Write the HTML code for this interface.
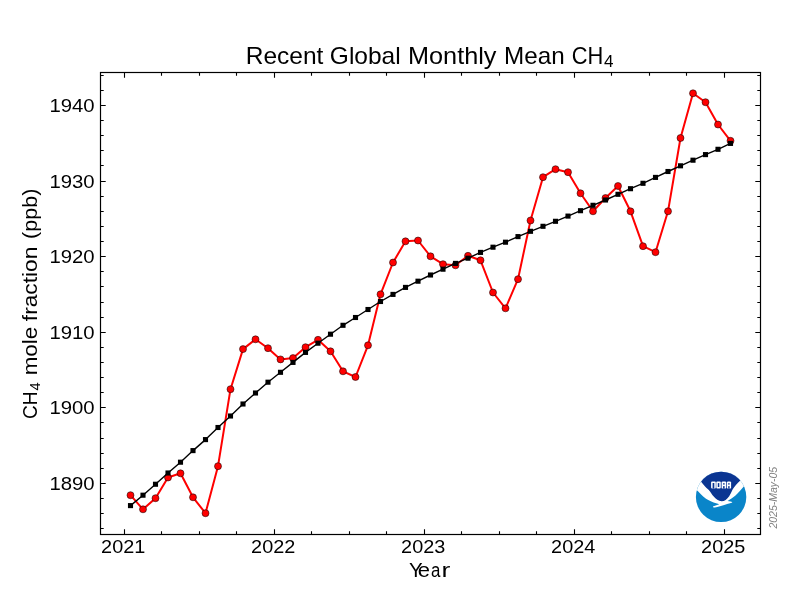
<!DOCTYPE html><html><head><meta charset="utf-8"><style>html,body{margin:0;padding:0;background:#fff;overflow:hidden}svg{display:block;will-change:transform}</style></head><body><svg width="800" height="600" viewBox="0 0 800 600"><rect width="800" height="600" fill="#fff"/><path d="M124.5 534.5v-5.2M124.5 72.5v5.2M161.5 534.5v-3.2M161.5 72.5v3.2M199.5 534.5v-3.2M199.5 72.5v3.2M236.5 534.5v-3.2M236.5 72.5v3.2M274.5 534.5v-5.2M274.5 72.5v5.2M311.5 534.5v-3.2M311.5 72.5v3.2M349.5 534.5v-3.2M349.5 72.5v3.2M386.5 534.5v-3.2M386.5 72.5v3.2M424.5 534.5v-5.2M424.5 72.5v5.2M461.5 534.5v-3.2M461.5 72.5v3.2M499.5 534.5v-3.2M499.5 72.5v3.2M536.5 534.5v-3.2M536.5 72.5v3.2M574.5 534.5v-5.2M574.5 72.5v5.2M611.5 534.5v-3.2M611.5 72.5v3.2M649.5 534.5v-3.2M649.5 72.5v3.2M686.5 534.5v-3.2M686.5 72.5v3.2M724.5 534.5v-5.2M724.5 72.5v5.2M100.5 528.5h3.2M760.5 528.5h-3.2M100.5 513.5h3.2M760.5 513.5h-3.2M100.5 498.5h3.2M760.5 498.5h-3.2M100.5 483.5h5.2M760.5 483.5h-5.2M100.5 468.5h3.2M760.5 468.5h-3.2M100.5 453.5h3.2M760.5 453.5h-3.2M100.5 438.5h3.2M760.5 438.5h-3.2M100.5 422.5h3.2M760.5 422.5h-3.2M100.5 407.5h5.2M760.5 407.5h-5.2M100.5 392.5h3.2M760.5 392.5h-3.2M100.5 377.5h3.2M760.5 377.5h-3.2M100.5 362.5h3.2M760.5 362.5h-3.2M100.5 347.5h3.2M760.5 347.5h-3.2M100.5 332.5h5.2M760.5 332.5h-5.2M100.5 317.5h3.2M760.5 317.5h-3.2M100.5 302.5h3.2M760.5 302.5h-3.2M100.5 286.5h3.2M760.5 286.5h-3.2M100.5 271.5h3.2M760.5 271.5h-3.2M100.5 256.5h5.2M760.5 256.5h-5.2M100.5 241.5h3.2M760.5 241.5h-3.2M100.5 226.5h3.2M760.5 226.5h-3.2M100.5 211.5h3.2M760.5 211.5h-3.2M100.5 196.5h3.2M760.5 196.5h-3.2M100.5 181.5h5.2M760.5 181.5h-5.2M100.5 165.5h3.2M760.5 165.5h-3.2M100.5 150.5h3.2M760.5 150.5h-3.2M100.5 135.5h3.2M760.5 135.5h-3.2M100.5 120.5h3.2M760.5 120.5h-3.2M100.5 105.5h5.2M760.5 105.5h-5.2M100.5 90.5h3.2M760.5 90.5h-3.2M100.5 75.5h3.2M760.5 75.5h-3.2" stroke="#000" stroke-width="1.1" fill="none"/><polyline points="130.5,495.2 143,509.3 155.5,498.2 168,477.5 180.5,473.3 193,497.3 205.5,513.2 218,466.2 230.5,389.2 243,349.1 255.5,339.3 268,348.2 280.5,359.4 293,358.1 305.5,347.2 318,339.8 330.5,351.3 343,371.3 355.5,377 368,345.3 380.5,294.3 393,262.5 405.5,241.3 418,240.5 430.5,256.3 443,264.2 455.5,265.3 468,255.8 480.5,260.3 493,292.5 505.5,308.3 518,279.2 530.5,220.5 543,177.2 555.5,169.2 568,172.2 580.5,193.3 593,211.3 605.5,198 618,186 630.5,211.3 643,246.2 655.5,252.2 668,211.3 680.5,138 693,93.3 705.5,102.2 718,124.5 730.5,140.8" fill="none" stroke="#f00" stroke-width="2" stroke-linejoin="round"/><g fill="#f00" stroke="#000" stroke-width="0.7" stroke-opacity="0.75"><circle cx="130.5" cy="495.2" r="3.5"/><circle cx="143" cy="509.3" r="3.5"/><circle cx="155.5" cy="498.2" r="3.5"/><circle cx="168" cy="477.5" r="3.5"/><circle cx="180.5" cy="473.3" r="3.5"/><circle cx="193" cy="497.3" r="3.5"/><circle cx="205.5" cy="513.2" r="3.5"/><circle cx="218" cy="466.2" r="3.5"/><circle cx="230.5" cy="389.2" r="3.5"/><circle cx="243" cy="349.1" r="3.5"/><circle cx="255.5" cy="339.3" r="3.5"/><circle cx="268" cy="348.2" r="3.5"/><circle cx="280.5" cy="359.4" r="3.5"/><circle cx="293" cy="358.1" r="3.5"/><circle cx="305.5" cy="347.2" r="3.5"/><circle cx="318" cy="339.8" r="3.5"/><circle cx="330.5" cy="351.3" r="3.5"/><circle cx="343" cy="371.3" r="3.5"/><circle cx="355.5" cy="377" r="3.5"/><circle cx="368" cy="345.3" r="3.5"/><circle cx="380.5" cy="294.3" r="3.5"/><circle cx="393" cy="262.5" r="3.5"/><circle cx="405.5" cy="241.3" r="3.5"/><circle cx="418" cy="240.5" r="3.5"/><circle cx="430.5" cy="256.3" r="3.5"/><circle cx="443" cy="264.2" r="3.5"/><circle cx="455.5" cy="265.3" r="3.5"/><circle cx="468" cy="255.8" r="3.5"/><circle cx="480.5" cy="260.3" r="3.5"/><circle cx="493" cy="292.5" r="3.5"/><circle cx="505.5" cy="308.3" r="3.5"/><circle cx="518" cy="279.2" r="3.5"/><circle cx="530.5" cy="220.5" r="3.5"/><circle cx="543" cy="177.2" r="3.5"/><circle cx="555.5" cy="169.2" r="3.5"/><circle cx="568" cy="172.2" r="3.5"/><circle cx="580.5" cy="193.3" r="3.5"/><circle cx="593" cy="211.3" r="3.5"/><circle cx="605.5" cy="198" r="3.5"/><circle cx="618" cy="186" r="3.5"/><circle cx="630.5" cy="211.3" r="3.5"/><circle cx="643" cy="246.2" r="3.5"/><circle cx="655.5" cy="252.2" r="3.5"/><circle cx="668" cy="211.3" r="3.5"/><circle cx="680.5" cy="138" r="3.5"/><circle cx="693" cy="93.3" r="3.5"/><circle cx="705.5" cy="102.2" r="3.5"/><circle cx="718" cy="124.5" r="3.5"/><circle cx="730.5" cy="140.8" r="3.5"/></g><polyline points="130.5,505.6 143,495.2 155.5,484.25 168,473 180.5,462.2 193,450.6 205.5,439.6 218,427.5 230.5,416 243,404 255.5,393 268,382.2 280.5,372.3 293,362.4 305.5,352.4 318,343.2 330.5,334.2 343,325.3 355.5,317.5 368,309.5 380.5,301.5 393,294.4 405.5,287.4 418,281.2 430.5,275 443,269.2 455.5,263.4 468,258.2 480.5,252.4 493,247.2 505.5,242.2 518,236.6 530.5,231.3 543,226.3 555.5,221.3 568,216.1 580.5,210.7 593,205.3 605.5,200 618,194.3 630.5,188.7 643,183.3 655.5,177.4 668,171.5 680.5,165.8 693,160.2 705.5,154.6 718,149.3 730.5,143.4" fill="none" stroke="#000" stroke-width="1.4" stroke-linejoin="round"/><g fill="#000"><rect x="127.95" y="503.05" width="5.1" height="5.1"/><rect x="140.45" y="492.65" width="5.1" height="5.1"/><rect x="152.95" y="481.7" width="5.1" height="5.1"/><rect x="165.45" y="470.45" width="5.1" height="5.1"/><rect x="177.95" y="459.65" width="5.1" height="5.1"/><rect x="190.45" y="448.05" width="5.1" height="5.1"/><rect x="202.95" y="437.05" width="5.1" height="5.1"/><rect x="215.45" y="424.95" width="5.1" height="5.1"/><rect x="227.95" y="413.45" width="5.1" height="5.1"/><rect x="240.45" y="401.45" width="5.1" height="5.1"/><rect x="252.95" y="390.45" width="5.1" height="5.1"/><rect x="265.45" y="379.65" width="5.1" height="5.1"/><rect x="277.95" y="369.75" width="5.1" height="5.1"/><rect x="290.45" y="359.85" width="5.1" height="5.1"/><rect x="302.95" y="349.85" width="5.1" height="5.1"/><rect x="315.45" y="340.65" width="5.1" height="5.1"/><rect x="327.95" y="331.65" width="5.1" height="5.1"/><rect x="340.45" y="322.75" width="5.1" height="5.1"/><rect x="352.95" y="314.95" width="5.1" height="5.1"/><rect x="365.45" y="306.95" width="5.1" height="5.1"/><rect x="377.95" y="298.95" width="5.1" height="5.1"/><rect x="390.45" y="291.85" width="5.1" height="5.1"/><rect x="402.95" y="284.85" width="5.1" height="5.1"/><rect x="415.45" y="278.65" width="5.1" height="5.1"/><rect x="427.95" y="272.45" width="5.1" height="5.1"/><rect x="440.45" y="266.65" width="5.1" height="5.1"/><rect x="452.95" y="260.85" width="5.1" height="5.1"/><rect x="465.45" y="255.65" width="5.1" height="5.1"/><rect x="477.95" y="249.85" width="5.1" height="5.1"/><rect x="490.45" y="244.65" width="5.1" height="5.1"/><rect x="502.95" y="239.65" width="5.1" height="5.1"/><rect x="515.45" y="234.05" width="5.1" height="5.1"/><rect x="527.95" y="228.75" width="5.1" height="5.1"/><rect x="540.45" y="223.75" width="5.1" height="5.1"/><rect x="552.95" y="218.75" width="5.1" height="5.1"/><rect x="565.45" y="213.55" width="5.1" height="5.1"/><rect x="577.95" y="208.15" width="5.1" height="5.1"/><rect x="590.45" y="202.75" width="5.1" height="5.1"/><rect x="602.95" y="197.45" width="5.1" height="5.1"/><rect x="615.45" y="191.75" width="5.1" height="5.1"/><rect x="627.95" y="186.15" width="5.1" height="5.1"/><rect x="640.45" y="180.75" width="5.1" height="5.1"/><rect x="652.95" y="174.85" width="5.1" height="5.1"/><rect x="665.45" y="168.95" width="5.1" height="5.1"/><rect x="677.95" y="163.25" width="5.1" height="5.1"/><rect x="690.45" y="157.65" width="5.1" height="5.1"/><rect x="702.95" y="152.05" width="5.1" height="5.1"/><rect x="715.45" y="146.75" width="5.1" height="5.1"/><rect x="727.95" y="140.85" width="5.1" height="5.1"/></g><rect x="100.5" y="72.5" width="660.0" height="462.0" fill="none" stroke="#000" stroke-width="1.2"/><text x="123.2" y="553.2" font-family="Liberation Sans, sans-serif" font-size="18.5" text-anchor="middle" textLength="44.2" lengthAdjust="spacingAndGlyphs">2021</text><text x="273.2" y="553.2" font-family="Liberation Sans, sans-serif" font-size="18.5" text-anchor="middle" textLength="44.2" lengthAdjust="spacingAndGlyphs">2022</text><text x="423.2" y="553.2" font-family="Liberation Sans, sans-serif" font-size="18.5" text-anchor="middle" textLength="44.2" lengthAdjust="spacingAndGlyphs">2023</text><text x="573.2" y="553.2" font-family="Liberation Sans, sans-serif" font-size="18.5" text-anchor="middle" textLength="44.2" lengthAdjust="spacingAndGlyphs">2024</text><text x="723.2" y="553.2" font-family="Liberation Sans, sans-serif" font-size="18.5" text-anchor="middle" textLength="44.2" lengthAdjust="spacingAndGlyphs">2025</text><text x="94.6" y="490.05" font-family="Liberation Sans, sans-serif" font-size="18.5" text-anchor="end" textLength="45.2" lengthAdjust="spacingAndGlyphs">1890</text><text x="94.6" y="414.45" font-family="Liberation Sans, sans-serif" font-size="18.5" text-anchor="end" textLength="45.2" lengthAdjust="spacingAndGlyphs">1900</text><text x="94.6" y="338.85" font-family="Liberation Sans, sans-serif" font-size="18.5" text-anchor="end" textLength="45.2" lengthAdjust="spacingAndGlyphs">1910</text><text x="94.6" y="263.25" font-family="Liberation Sans, sans-serif" font-size="18.5" text-anchor="end" textLength="45.2" lengthAdjust="spacingAndGlyphs">1920</text><text x="94.6" y="187.65" font-family="Liberation Sans, sans-serif" font-size="18.5" text-anchor="end" textLength="45.2" lengthAdjust="spacingAndGlyphs">1930</text><text x="94.6" y="112.05" font-family="Liberation Sans, sans-serif" font-size="18.5" text-anchor="end" textLength="45.2" lengthAdjust="spacingAndGlyphs">1940</text><g font-family="Liberation Sans, sans-serif" font-size="20"><text x="409.06" y="576.7" textLength="13.66" lengthAdjust="spacingAndGlyphs">Y</text><text x="417.89" y="576.7" textLength="12.26" lengthAdjust="spacingAndGlyphs">e</text><text x="431.06" y="576.7" textLength="9.4" lengthAdjust="spacingAndGlyphs">a</text><text x="441.6" y="576.7" textLength="8.86" lengthAdjust="spacingAndGlyphs">r</text></g><g transform="translate(37.2 417.7) rotate(-90)" font-family="Liberation Sans, sans-serif" font-size="20"><text x="-1.28" y="0" textLength="27.44" lengthAdjust="spacingAndGlyphs">CH</text><text x="27.21" y="3" font-size="14" textLength="8.15" lengthAdjust="spacingAndGlyphs">4</text><text x="42.36" y="0" textLength="48.51" lengthAdjust="spacingAndGlyphs">mole</text><text x="96.54" y="0" textLength="74.49" lengthAdjust="spacingAndGlyphs">fraction</text><text x="178.71" y="0" textLength="50.41" lengthAdjust="spacingAndGlyphs">(ppb)</text></g><g font-family="Liberation Sans, sans-serif" font-size="24"><text x="245.74" y="64" textLength="77.68" lengthAdjust="spacingAndGlyphs">Recent</text><text x="329.84" y="64" textLength="70.81" lengthAdjust="spacingAndGlyphs">Global</text><text x="408.06" y="64" textLength="88.43" lengthAdjust="spacingAndGlyphs">Monthly</text><text x="504.11" y="64" textLength="60.66" lengthAdjust="spacingAndGlyphs">Mean</text><text x="571.67" y="64" textLength="31.54" lengthAdjust="spacingAndGlyphs">CH</text></g><text x="604" y="66.8" font-family="Liberation Sans, sans-serif" font-size="16.5" textLength="9.5" lengthAdjust="spacingAndGlyphs">4</text><g transform="translate(777 528.6) rotate(-90)"><text x="0" y="0" font-family="Liberation Sans, sans-serif" font-style="italic" font-size="11.2" fill="#808080" textLength="61.8" lengthAdjust="spacingAndGlyphs">2025-May-05</text></g><defs><clipPath id="cc"><circle cx="721.1" cy="496.9" r="25.2"/></clipPath></defs>
<g clip-path="url(#cc)">
<rect x="690" y="465" width="62" height="62" fill="#0a85c9"/>
<path d="M690 465 L690 488.5 L696 489.5 C699 492 702 496 706 498.8 C709 500.6 712 502 717 503.6 L719.3 504.3 L712.8 506.4 C713.2 507.3 713.8 507.7 714.8 507.6 C718 506.8 722 505.8 725 504.8 C728 503.8 730.5 503 732.4 502.5 C732 501.8 731.2 501.5 730.5 501.4 L727.6 501 C730 499.5 733 497.5 735.5 495.5 C738.5 492.5 741.5 489 745 485 L752 480 L752 465 Z" fill="#fff"/>
<path d="M690 465 L690 478 L701 481.4 C703 484 705 486.5 708.8 490 C710.5 492 712 494.8 713.5 496.2 C716 498.8 718.5 501.2 721.6 501.2 C724.5 501.2 727 499.2 729.2 496.2 C730.5 494 731.5 492 732.6 489.5 C734.5 486.5 737 483.5 740.3 480.5 L752 476 L752 465 Z" fill="#0b3592"/>
</g>
<g fill="#fff"><rect x="711.1" y="481.4" width="4.7" height="7.2" rx="1"/><rect x="716.3" y="481.4" width="4.5" height="7.2" rx="1"/><rect x="721.6" y="481.4" width="4.6" height="7.2" rx="1.2"/><rect x="726.9" y="481.4" width="4.2" height="7.2" rx="1.2"/></g>
<g fill="#0b3592"><rect x="712.6" y="483" width="1.7" height="5.6"/><rect x="717.8" y="483.1" width="1.5" height="3.9"/><rect x="723.1" y="483.2" width="1.5" height="1.4"/><rect x="723.1" y="486.1" width="1.5" height="2.5"/><rect x="728.2" y="483.2" width="1.4" height="1.4"/><rect x="728.2" y="486.1" width="1.4" height="2.5"/></g></svg></body></html>
